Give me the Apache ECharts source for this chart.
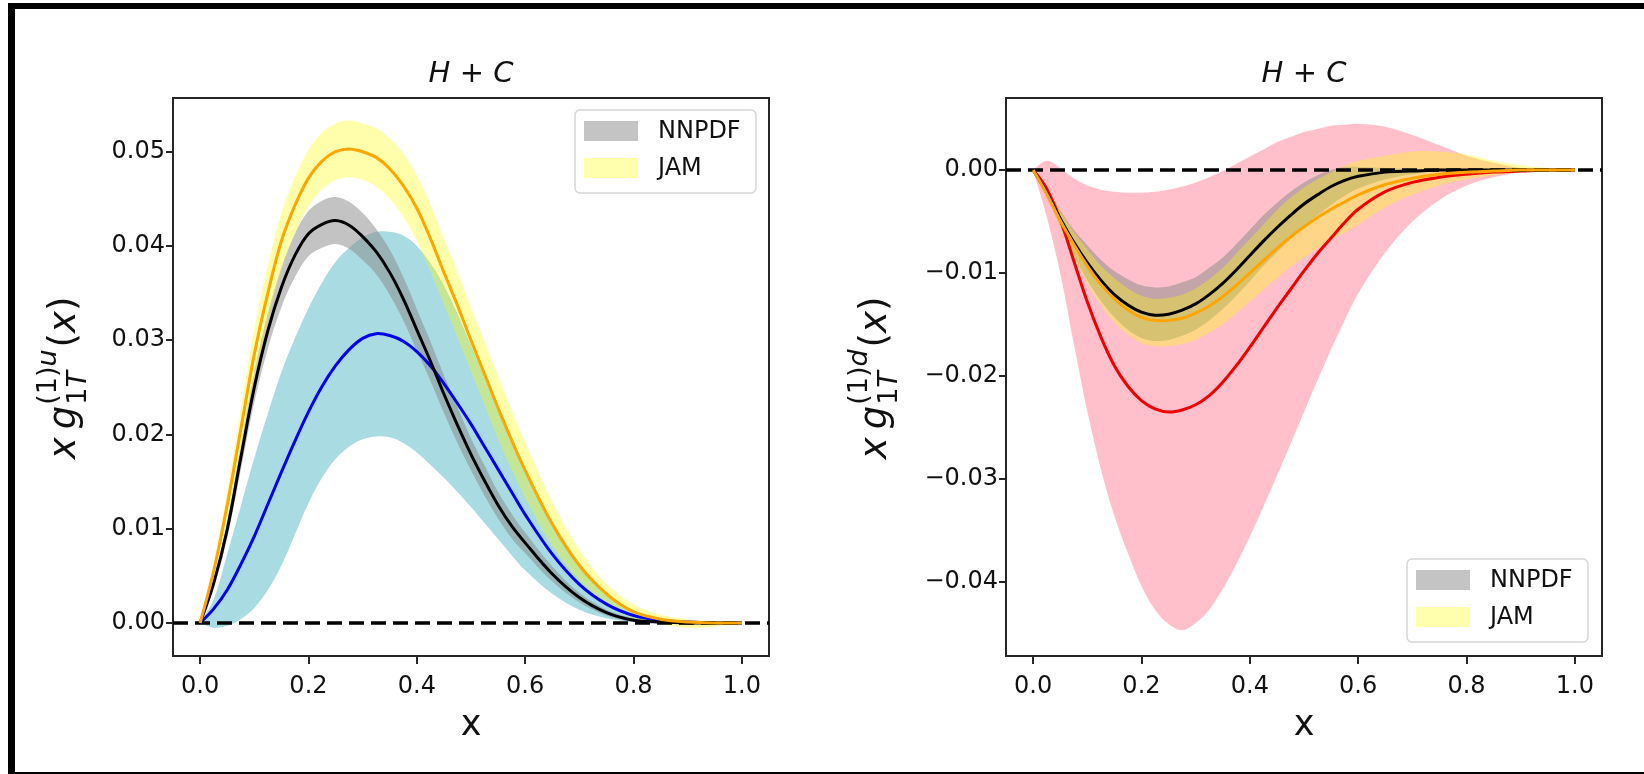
<!DOCTYPE html>
<html>
<head>
<meta charset="utf-8">
<script src="https://cdn.jsdelivr.net/npm/echarts@6/dist/echarts.min.js"></script>
<style>html,body{margin:0;padding:0;background:#fff;}#c{width:1644px;height:774px;}</style>
</head>
<body>
<div id="c"></div>
<script>
// ---------------- data ----------------
const xs = [0, 0.025, 0.05, 0.075, 0.1, 0.125, 0.15, 0.175, 0.2, 0.225, 0.25, 0.275, 0.3, 0.325, 0.35, 0.375, 0.4, 0.425, 0.45, 0.475, 0.5, 0.525, 0.55, 0.575, 0.6, 0.65, 0.7, 0.75, 0.8, 0.85, 0.9, 0.95, 1.0];

// left panel: u quark
const uFit       = [0, 0.0015, 0.0035, 0.0062, 0.0092, 0.0126, 0.0160, 0.0193, 0.0224, 0.0251, 0.0273, 0.0290, 0.0302, 0.0307, 0.0305, 0.0299, 0.0288, 0.0273, 0.0254, 0.0233, 0.0211, 0.0187, 0.0163, 0.0139, 0.0115, 0.0073, 0.0041, 0.0020, 0.0008, 0.0003, 0.0001, 0, 0];
const uFitLow    = [0, -0.0005, -0.0003, 0.0004, 0.0016, 0.0035, 0.0061, 0.0094, 0.0127, 0.0154, 0.0174, 0.0187, 0.0195, 0.0198, 0.0197, 0.0191, 0.0181, 0.0168, 0.0154, 0.0139, 0.0123, 0.0106, 0.0089, 0.0072, 0.0056, 0.0031, 0.0014, 0.0005, 0.0001, 0, 0, 0, 0];
const uFitHigh   = [0, 0.0025, 0.0073, 0.0124, 0.0175, 0.0222, 0.0266, 0.0302, 0.0334, 0.0361, 0.0383, 0.0398, 0.0409, 0.0415, 0.0415, 0.0411, 0.0400, 0.0382, 0.0358, 0.0328, 0.0295, 0.0260, 0.0225, 0.0192, 0.0161, 0.0108, 0.0064, 0.0032, 0.0013, 0.0004, 0.0001, 0, 0];
const uNNPDF     = [0, 0.0042, 0.0099, 0.0175, 0.0250, 0.0310, 0.0356, 0.0390, 0.0413, 0.0423, 0.0427, 0.0422, 0.0410, 0.0394, 0.0372, 0.0344, 0.0311, 0.0278, 0.0243, 0.0210, 0.0179, 0.0151, 0.0125, 0.0103, 0.0085, 0.0052, 0.0027, 0.0011, 0.0003, 0.0001, 0, 0, 0];
const uNNPDFLow  = [0, 0.0037, 0.0090, 0.0162, 0.0234, 0.0291, 0.0335, 0.0367, 0.0389, 0.0398, 0.0402, 0.0397, 0.0385, 0.0370, 0.0348, 0.0321, 0.0289, 0.0257, 0.0223, 0.0191, 0.0162, 0.0135, 0.0111, 0.0090, 0.0074, 0.0044, 0.0022, 0.0008, 0.0001, 0, 0, 0, 0];
const uNNPDFHigh = [0, 0.0047, 0.0108, 0.0188, 0.0266, 0.0329, 0.0377, 0.0413, 0.0437, 0.0448, 0.0452, 0.0447, 0.0435, 0.0418, 0.0396, 0.0367, 0.0333, 0.0299, 0.0263, 0.0229, 0.0196, 0.0167, 0.0139, 0.0116, 0.0096, 0.0060, 0.0032, 0.0014, 0.0005, 0.0002, 0, 0, 0];
const uJAM       = [0, 0.0055, 0.0125, 0.0205, 0.0285, 0.0350, 0.0405, 0.0443, 0.0472, 0.0490, 0.0500, 0.0503, 0.0500, 0.0494, 0.0482, 0.0464, 0.0440, 0.0408, 0.0372, 0.0337, 0.0300, 0.0264, 0.0228, 0.0194, 0.0162, 0.0105, 0.0061, 0.0031, 0.0012, 0.0004, 0.0001, 0, 0];
const uJAMLow    = [0, 0.0047, 0.0110, 0.0183, 0.0258, 0.0321, 0.0375, 0.0413, 0.0442, 0.0460, 0.0470, 0.0473, 0.0470, 0.0463, 0.0450, 0.0431, 0.0405, 0.0373, 0.0338, 0.0303, 0.0267, 0.0231, 0.0195, 0.0163, 0.0133, 0.0082, 0.0045, 0.0020, 0.0005, -0.0001, -0.0005, -0.0004, 0];
const uJAMHigh   = [0, 0.0063, 0.0140, 0.0227, 0.0312, 0.0379, 0.0435, 0.0473, 0.0502, 0.0520, 0.0530, 0.0533, 0.0530, 0.0525, 0.0514, 0.0498, 0.0475, 0.0444, 0.0408, 0.0373, 0.0335, 0.0299, 0.0262, 0.0226, 0.0192, 0.0129, 0.0078, 0.0042, 0.0020, 0.0009, 0.0004, 0.0002, 0];

// right panel: d quark
const dFit       = [0, -0.0018, -0.0048, -0.0088, -0.0128, -0.0162, -0.0190, -0.0210, -0.0224, -0.0232, -0.0235, -0.0233, -0.0228, -0.0219, -0.0206, -0.0190, -0.0172, -0.0153, -0.0134, -0.0116, -0.0098, -0.0081, -0.0066, -0.0051, -0.0038, -0.0021, -0.0012, -0.0007, -0.0004, -0.0002, -0.0001, 0, 0];
const dFitLow    = [0, -0.0045, -0.0100, -0.0168, -0.0234, -0.0290, -0.0336, -0.0372, -0.0404, -0.0427, -0.0441, -0.0447, -0.0440, -0.0427, -0.0407, -0.0383, -0.0356, -0.0327, -0.0297, -0.0266, -0.0235, -0.0204, -0.0174, -0.0146, -0.0120, -0.0080, -0.0050, -0.0029, -0.0015, -0.0007, -0.0002, 0, 0];
const dFitHigh   = [0, 0.0009, 0.0002, -0.0008, -0.0015, -0.0019, -0.0021, -0.0022, -0.0022, -0.0021, -0.0019, -0.0016, -0.0012, -0.0007, -0.0001, 0.0006, 0.0013, 0.0020, 0.0027, 0.0032, 0.0037, 0.0040, 0.0043, 0.0044, 0.0045, 0.0042, 0.0034, 0.0024, 0.0014, 0.0007, 0.0002, 0.0001, 0];
const dNNPDF     = [0, -0.0022, -0.0047, -0.0070, -0.0090, -0.0107, -0.0121, -0.0131, -0.0138, -0.0141, -0.0140, -0.0136, -0.0130, -0.0121, -0.0110, -0.0097, -0.0083, -0.0069, -0.0056, -0.0044, -0.0033, -0.0024, -0.0016, -0.0010, -0.0006, -0.0002, -0.0001, 0, 0, 0, 0, 0, 0];
const dNNPDFLow  = [0, -0.0026, -0.0055, -0.0082, -0.0107, -0.0127, -0.0143, -0.0155, -0.0163, -0.0166, -0.0165, -0.0161, -0.0155, -0.0146, -0.0135, -0.0122, -0.0108, -0.0093, -0.0080, -0.0067, -0.0055, -0.0044, -0.0034, -0.0025, -0.0018, -0.0009, -0.0004, -0.0001, 0, 0, 0, 0, 0];
const dNNPDFHigh = [0, -0.0018, -0.0039, -0.0058, -0.0073, -0.0087, -0.0098, -0.0106, -0.0112, -0.0114, -0.0113, -0.0109, -0.0104, -0.0095, -0.0085, -0.0072, -0.0058, -0.0044, -0.0032, -0.0021, -0.0012, -0.0005, 0.0000, 0.0003, 0.0003, 0.0002, 0.0001, 0, 0, 0, 0, 0, 0];
const dJAM       = [0, -0.0023, -0.0049, -0.0072, -0.0093, -0.0111, -0.0125, -0.0136, -0.0143, -0.0146, -0.0146, -0.0144, -0.0139, -0.0132, -0.0123, -0.0112, -0.0100, -0.0088, -0.0076, -0.0065, -0.0055, -0.0046, -0.0038, -0.0031, -0.0024, -0.0014, -0.0008, -0.0004, -0.0002, -0.0001, 0, 0, 0];
const dJAMLow    = [0, -0.0026, -0.0056, -0.0084, -0.0110, -0.0131, -0.0148, -0.0160, -0.0168, -0.0171, -0.0171, -0.0169, -0.0165, -0.0158, -0.0150, -0.0139, -0.0128, -0.0116, -0.0105, -0.0094, -0.0085, -0.0076, -0.0068, -0.0061, -0.0053, -0.0036, -0.0024, -0.0015, -0.0009, -0.0005, -0.0002, -0.0001, 0];
const dJAMHigh   = [0, -0.0018, -0.0040, -0.0060, -0.0077, -0.0093, -0.0105, -0.0115, -0.0122, -0.0125, -0.0124, -0.0121, -0.0115, -0.0106, -0.0095, -0.0081, -0.0067, -0.0053, -0.0039, -0.0027, -0.0017, -0.0009, -0.0002, 0.0004, 0.0009, 0.0014, 0.0018, 0.0018, 0.0015, 0.0009, 0.0005, 0.0002, 0];

const xTicks = [0, 0.2, 0.4, 0.6, 0.8, 1.0];
const uTicks = [0, 0.01, 0.02, 0.03, 0.04, 0.05];
const dTicks = [-0.04, -0.03, -0.02, -0.01, 0];
const panelTitle = ['H', '+', 'C'];
const legendNames = ['NNPDF', 'JAM'];
const xName = 'x';

// ---------------- styles ----------------
const FONT = 'DejaVu Sans';
const AX = '#262626';
const TXT = '#111';
const C_CYAN = '#a8dbe2', C_PINK = '#ffc0cb';
const C_GRAY = 'rgba(136,136,136,0.5)', C_YEL = 'rgba(255,255,0,0.33)';
const C_BLUE = '#0000ee', C_RED = '#ee0000', C_ORANGE = '#ffa500', C_BLACK = '#000000';
const SMOOTH = 0.35;

const G = [
  {left: 173, top: 98, width: 596, height: 558},
  {left: 1006, top: 98, width: 596, height: 558}
];

const chart = echarts.init(document.getElementById('c'), null, {renderer: 'canvas'});

function fmtY(v) {
  const s = Math.abs(v).toFixed(2);
  return v < -1e-12 ? '\u2212' + s : s;
}
function xAxisCfg(gi) {
  return {
    type: 'value', gridIndex: gi, min: -0.05, max: 1.05,
    axisLine: {show: true, onZero: false, lineStyle: {color: AX, width: 2}},
    axisTick: {show: true, inside: false, length: 8, customValues: xTicks, lineStyle: {color: AX, width: 2}},
    axisLabel: {show: true, customValues: xTicks, margin: 19, fontFamily: FONT, fontSize: 24, color: TXT,
      formatter: v => v.toFixed(1)},
    splitLine: {show: false}
  };
}
function yAxisCfg(gi, min, max, ticks) {
  return {
    type: 'value', gridIndex: gi, min: min, max: max,
    axisLine: {show: true, onZero: false, lineStyle: {color: AX, width: 2}},
    axisTick: {show: true, inside: false, length: 7, customValues: ticks, lineStyle: {color: AX, width: 2}},
    axisLabel: {show: true, customValues: ticks, margin: 8, fontFamily: FONT, fontSize: 24, color: TXT,
      formatter: fmtY},
    splitLine: {show: false}
  };
}
function band(gi, lo, hi, color, z) {
  return {
    type: 'custom', xAxisIndex: gi, yAxisIndex: gi, z: z, silent: true, clip: true,
    data: [[0, 0]],
    renderItem: function (params, api) {
      const pts = [];
      for (let i = 0; i < xs.length; i++) pts.push(api.coord([xs[i], hi[i]]));
      for (let i = xs.length - 1; i >= 0; i--) pts.push(api.coord([xs[i], lo[i]]));
      return {type: 'polygon', shape: {points: pts, smooth: SMOOTH}, style: {fill: color, stroke: null}};
    }
  };
}
function curve(gi, arr, color, z) {
  return {
    type: 'custom', xAxisIndex: gi, yAxisIndex: gi, z: z, silent: true, clip: true,
    data: [[0, 0]],
    renderItem: function (params, api) {
      const pts = xs.map((x, i) => api.coord([x, arr[i]]));
      return {type: 'polyline', shape: {points: pts, smooth: SMOOTH},
        style: {stroke: color, lineWidth: 3, fill: null, lineJoin: 'round', lineCap: 'butt'}};
    }
  };
}
function zeroSeries(gi) {
  return {
    type: 'line', xAxisIndex: gi, yAxisIndex: gi, z: 20, silent: true,
    data: [[xs[0], 0], [xs[xs.length - 1], 0]], showSymbol: false, symbol: 'none',
    lineStyle: {opacity: 0, width: 0},
    markLine: {
      silent: true, symbol: ['none', 'none'], label: {show: false}, animation: false,
      lineStyle: {type: [15, 7], color: '#000', width: 3.5},
      data: [{yAxis: 0}]
    }
  };
}

// math ylabel builder (rotated group)
const mctx = document.createElement('canvas').getContext('2d');
function tw(t, size, it) {
  mctx.font = (it ? 'italic ' : '') + size + 'px "' + FONT + '"';
  return mctx.measureText(t).width;
}
function mathYLabel(cx, cy, flav) {
  const M = 37, S = 27;
  const pieces = [];
  let x = 0;
  function put(t, size, it, px, dy) {
    pieces.push({type: 'text', x: px, y: dy, style: {text: t, fontFamily: FONT, fontSize: size,
      fontStyle: it ? 'italic' : 'normal', fill: TXT, align: 'left', verticalAlign: 'middle'}});
    return tw(t, size, it);
  }
  x += put('x', M, true, x, 0);
  x += M * 0.22;
  x += put('g', M, true, x, 0) + 1;
  const sx = x;
  let a = sx;
  a += put('(1)', S, false, a, -16);
  a += put(flav, S, true, a, -16);
  let b = sx;
  b += put('1', S, false, b, 14);
  b += put('T', S, true, b, 14);
  x = Math.max(a, b) + 2;
  x += put('(', M, false, x, 0);
  x += put('x', M, true, x, 0);
  x += put(')', M, false, x, 0);
  const W = x;
  pieces.forEach(p => { p.x -= W / 2; });
  return {type: 'group', x: cx, y: cy, rotation: Math.PI / 2, children: pieces, silent: true};
}
function titleText(cx, cy) {
  return {type: 'text', x: cx, y: cy, silent: true,
    style: {text: '{i|' + panelTitle[0] + '} ' + panelTitle[1] + ' {i|' + panelTitle[2] + '}',
      fontFamily: FONT, fontSize: 29, fill: TXT, align: 'center', verticalAlign: 'middle',
      rich: {i: {fontFamily: FONT, fontSize: 29, fontStyle: 'italic', fill: TXT}}}};
}
function legendBox(bx, by) {
  return [
    {type: 'rect', silent: true, z: 50, shape: {x: bx, y: by, width: 181, height: 83, r: 5},
      style: {fill: 'rgba(255,255,255,0.85)', stroke: '#d6d6d6', lineWidth: 1.5}},
    {type: 'rect', silent: true, z: 51, shape: {x: bx + 9, y: by + 11, width: 54, height: 20},
      style: {fill: '#c4c4c4'}},
    {type: 'rect', silent: true, z: 51, shape: {x: bx + 9, y: by + 48, width: 54, height: 20},
      style: {fill: '#ffffad'}},
    {type: 'text', silent: true, z: 52, x: bx + 83, y: by + 22,
      style: {text: legendNames[0], fontFamily: FONT, fontSize: 24, fill: TXT, align: 'left', verticalAlign: 'middle'}},
    {type: 'text', silent: true, z: 52, x: bx + 83, y: by + 59,
      style: {text: legendNames[1], fontFamily: FONT, fontSize: 24, fill: TXT, align: 'left', verticalAlign: 'middle'}}
  ];
}

const option = {
  animation: false,
  backgroundColor: '#ffffff',
  grid: G.map(g => Object.assign({show: true, borderColor: AX, borderWidth: 2, backgroundColor: 'transparent'}, g)),
  xAxis: [xAxisCfg(0), xAxisCfg(1)],
  yAxis: [yAxisCfg(0, -0.0035, 0.0557, uTicks), yAxisCfg(1, -0.0472, 0.0070, dTicks)],
  series: [
    band(0, uFitLow, uFitHigh, C_CYAN, 1),
    band(0, uNNPDFLow, uNNPDFHigh, C_GRAY, 2),
    band(0, uJAMLow, uJAMHigh, C_YEL, 3),
    curve(0, uFit, C_BLUE, 4),
    curve(0, uNNPDF, C_BLACK, 5),
    curve(0, uJAM, C_ORANGE, 6),
    zeroSeries(0),
    band(1, dFitLow, dFitHigh, C_PINK, 1),
    band(1, dNNPDFLow, dNNPDFHigh, C_GRAY, 2),
    band(1, dJAMLow, dJAMHigh, C_YEL, 3),
    curve(1, dFit, C_RED, 4),
    curve(1, dNNPDF, C_BLACK, 5),
    curve(1, dJAM, C_ORANGE, 6),
    zeroSeries(1)
  ],
  graphic: [
    {type: 'rect', silent: true, shape: {x: 8, y: 3, width: 7, height: 771}, style: {fill: '#000'}},
    {type: 'rect', silent: true, shape: {x: 8, y: 3, width: 1636, height: 6}, style: {fill: '#000'}},
    {type: 'rect', silent: true, shape: {x: 8, y: 772, width: 1636, height: 2}, style: {fill: '#000'}},
    titleText(471, 74),
    titleText(1304, 74),
    {type: 'text', silent: true, x: 471, y: 726,
      style: {text: xName, fontFamily: FONT, fontSize: 35, fill: TXT, align: 'center', verticalAlign: 'middle'}},
    {type: 'text', silent: true, x: 1304, y: 726,
      style: {text: xName, fontFamily: FONT, fontSize: 35, fill: TXT, align: 'center', verticalAlign: 'middle'}},
    mathYLabel(65, 378, 'u'),
    mathYLabel(876, 378, 'd'),
    ...legendBox(575, 110),
    ...legendBox(1407, 559)
  ]
};
chart.setOption(option);
</script>
</body>
</html>
